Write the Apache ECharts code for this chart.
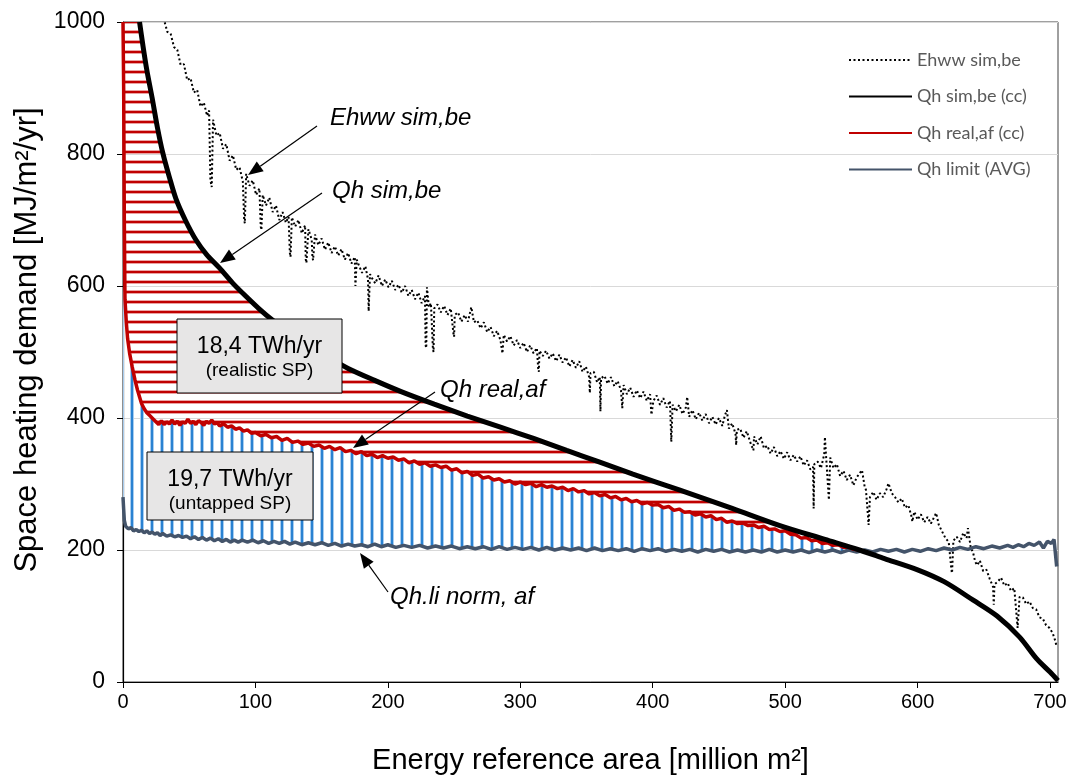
<!DOCTYPE html>
<html>
<head>
<meta charset="utf-8">
<script src="https://cdn.jsdelivr.net/npm/echarts@6/dist/echarts.min.js"></script>
<style>html,body{margin:0;padding:0;background:#fff}#c{width:1075px;height:775px}</style>
</head>
<body>
<div id="c"></div>
<script>
// ---- Data ----
const ehwwSim = [[29,1040],[31,1003],[33.5,985],[36,982],[38.5,962],[41,958],[43.5,935],[46,936],[48.5,912],[51,915],[53.5,893],[56,897],[58.5,872],[61,878],[63.5,858],[65,866],[66,760],[67,750],[68,852],[70.5,828],[73,832],[75.5,808],[78,815],[80.5,790],[83,798],[85.5,776],[88,780],[90.5,758],[91.5,700],[92,695],[93,770],[95.5,752],[98,760],[100.5,738],[103,748],[104,690],[104.5,685],[105.5,738],[108,722],[110.5,734],[113,712],[115.5,722],[118,700],[120.5,712],[123,696],[125,705],[126,650],[126.5,644],[127.5,704],[130,690],[132.5,700],[135,680],[137.5,692],[138,640],[138.5,635],[140,686],[142.5,670],[143,645],[143.5,639],[145,678],[147.5,662],[150,672],[152.5,655],[155,666],[157.5,650],[160,660],[162.5,646],[165,656],[167.5,640],[170,650],[172.5,634],[175,644],[175.5,600],[176,597],[176.5,640],[178,632],[180.5,620],[183,630],[185,610],[185.5,562],[186,559],[186.5,618],[188,612],[190.5,604],[193,616],[195.5,600],[198,610],[200.5,598],[203,608],[205.5,594],[208,602],[210.5,590],[213,600],[215.5,585],[218,594],[220.5,580],[223,590],[225.5,574],[228,585],[228.5,510],[229,506],[229.5,598],[230,599],[231,568],[232.5,574],[234,505],[234.5,500],[235,566],[237.5,572],[240,560],[242.5,570],[245,556],[247.5,566],[249.5,528],[250,523],[250.5,556],[253,560],[255.5,546],[258,556],[260.5,546],[263,568],[263.5,569],[265,545],[267.5,548],[270,536],[272.5,545],[275,530],[277.5,538],[280,524],[282.5,532],[285,518],[286.5,498],[287,495],[287.5,526],[290,516],[292.5,524],[295,510],[297.5,518],[300,506],[302.5,514],[305,500],[307.5,510],[310,498],[312.5,506],[313.5,475],[314,470],[314.5,502],[317,494],[319.5,502],[322,490],[324.5,498],[327,486],[329.5,496],[332,484],[334.5,492],[337,478],[339.5,488],[342,476],[344.5,486],[347,470],[349.5,478],[352,462],[352.5,438],[353,468],[355.5,470],[358,454],[360,462],[360.5,410],[361,460],[363.5,464],[366,452],[368.5,462],[371,448],[373.5,456],[376,442],[377,415],[378,450],[380.5,436],[383,446],[385.5,432],[388,442],[390.5,430],[393,440],[395.5,426],[398,436],[399,405],[400.5,426],[403,434],[405.5,420],[408,430],[410.5,416],[413,426],[414,364],[415,420],[417.5,410],[420,420],[422.5,406],[425,416],[426,432],[427.5,402],[430,412],[432.5,398],[435,408],[437.5,396],[440,406],[442.5,392],[445,402],[447.5,390],[450,400],[452.5,388],[454.5,404],[456,412],[457.5,384],[460,392],[462.5,376],[463,359],[463.5,382],[466,384],[468.5,370],[471,380],[473.5,364],[476,351],[476.5,372],[479,360],[481.5,372],[484,354],[486.5,358],[489,346],[491.5,356],[494,342],[496.5,350],[499,338],[501.5,348],[504,336],[506.5,344],[509,334],[511.5,342],[514,328],[516.5,336],[519,322],[521,326],[521.5,263],[522,330],[524.5,334],[527,324],[529.5,345],[530,371],[531,338],[533,276],[534,340],[536.5,324],[539,330],[541.5,312],[544,320],[546.5,306],[549,314],[551.5,298],[554,310],[556.5,317],[558,321],[560,296],[561,291],[563,238],[564,280],[566.5,288],[569,276],[571.5,286],[574,280],[576.5,292],[578,301],[580.5,286],[583,280],[585.5,272],[588,278],[590.5,264],[593,268],[595.5,250],[596,243],[597.5,258],[600,246],[602.5,254],[605,242],[607.5,250],[610,240],[612.5,250],[614,256],[616,238],[618.5,228],[621,218],[623.5,212],[625.5,170],[626,165],[627,214],[629.5,220],[632,212],[634.5,226],[637,218],[638,233],[640,205],[642,195],[643.5,182],[645,177],[647,184],[649.5,168],[652,170],[654.5,156],[657,144],[657.5,117],[658,148],[660.5,152],[663,158],[665.5,146],[668,150],[670.5,138],[673,142],[675.5,82],[676,79],[677,129],[679.5,128],[682,118],[684.5,122],[687,112],[689.5,110],[692,98],[694.5,96],[697,86],[699.5,82],[702,74],[704,62],[705,53]];

const qhSim = [[12.5,1000],[15,965],[18,927],[22,885],[26,840],[30,802],[35,765],[40,732],[47,700],[55,670],[63,648],[73,627],[83,604],[93,584],[103,565],[113,548],[125,530],[140,510],[155,492],[170,475],[190,457],[210,440],[235,421],[260,403],[285,386],[310,369],[335,351],[360,333],[385,315],[420,291],[460,263],[496,237],[530,216],[556,200],[575,187],[600,170],[620,152],[642,124],[660,100],[677,68],[690,35],[700,15],[706,2]];

const qhReal = [[0,1000],[0.5,900],[1,700],[1.5,580],[2.5,545],[3.5,520],[5,498],[7,477],[9,458],[11,442],[12.5,432],[14,422],[16,414],[18,408],[20,404],[22,400],[25,394],[27,390],[29,396],[31,390],[33,394],[35,391],[37,397],[39,391],[41,395],[43,389],[45,394],[47,392],[49,398],[51,392],[53,395],[55,390],[57,396],[59,393],[61,389],[63,395],[65,392],[67,397],[69,391],[71,393],[73,388],[76,391],[79,386],[82,388],[85,383],[88,385],[91,380],[94,382],[97,377],[100,378],[104,373],[108,375],[112,370],[116,372],[120,366],[124,369],[128,363],[132,365],[136,360],[140,362],[144,357],[148,359],[152,354],[156,357],[160,352],[164,355],[168,349],[172,351],[176,346],[180,349],[184,343],[188,345],[192,340],[196,343],[200,339],[204,341],[208,336],[212,338],[216,332],[220,335],[224,330],[228,332],[232,327],[236,329],[240,325],[244,327],[248,321],[252,323],[256,317],[260,319],[264,313],[268,315],[272,309],[276,311],[280,306],[284,308],[288,303],[292,305],[296,300],[300,303],[304,299],[308,301],[312,296],[316,299],[320,295],[324,297],[328,293],[332,295],[336,290],[340,293],[344,288],[348,290],[352,285],[356,287],[360,282],[364,284],[368,279],[372,281],[376,276],[380,278],[384,273],[388,275],[392,270],[396,272],[400,268],[404,269],[408,264],[412,266],[416,260],[420,262],[424,257],[428,258],[432,253],[436,255],[440,250],[444,252],[448,246],[452,248],[456,242],[460,244],[464,240],[468,241],[472,237],[476,238],[480,234],[484,236],[488,231],[492,232],[496,228],[500,229],[504,224],[508,223],[512,218],[516,219],[520,214],[524,215],[528,210],[532,211],[536,207],[540,208],[544,204],[548,204],[552,201],[556,200]];

const qhLimit = [[0,280],[0.5,262],[1,245],[2,236],[4,232],[6,234],[8,229],[10,231],[12,228],[14,230],[16,226],[18,229],[20,225],[22,227],[24,224],[26,226],[28,222],[30,225],[33,221],[36,223],[39,220],[42,222],[45,219],[48,221],[51,217],[54,220],[57,216],[60,219],[63,215],[66,218],[69,214],[72,217],[75,213],[78,216],[81,212],[84,215],[87,212],[90,215],[94,212],[98,215],[102,211],[106,214],[110,210],[114,213],[118,210],[122,213],[126,209],[130,212],[135,208],[140,211],[145,208],[150,211],[155,207],[160,210],[165,206],[170,209],[175,206],[180,208],[185,205],[190,209],[195,205],[200,208],[206,204],[212,207],[218,204],[224,207],[230,203],[236,206],[242,203],[248,206],[254,202],[260,205],[266,202],[272,205],[278,201],[284,205],[290,201],[296,204],[302,201],[308,204],[314,200],[320,204],[326,200],[332,203],[338,200],[344,203],[350,199],[356,203],[362,199],[368,202],[374,199],[380,202],[386,198],[392,202],[398,199],[404,202],[410,198],[416,201],[422,198],[428,201],[434,197],[440,201],[446,198],[452,201],[458,197],[464,200],[470,197],[476,200],[482,197],[488,201],[494,197],[500,200],[506,197],[512,200],[518,196],[524,200],[530,197],[536,200],[542,196],[548,200],[554,197],[560,200],[566,197],[572,201],[578,198],[584,201],[590,197],[596,201],[602,198],[608,202],[614,199],[620,203],[626,200],[632,204],[638,201],[644,205],[650,202],[656,206],[662,203],[668,207],[672,204],[676,208],[680,205],[684,210],[688,207],[692,212],[695,203],[698,213],[701,210],[703,216],[704.5,218],[705,175]];

const seriesNames = ['Ehww sim,be', 'Qh sim,be (cc)', 'Qh real,af (cc)', 'Qh limit (AVG)'];
const boxTexts = [['18,4 TWh/yr', '(realistic SP)'], ['19,7 TWh/yr', '(untapped SP)']];
const annotationTexts = ['Ehww sim,be', 'Qh sim,be', 'Qh real,af', 'Qh.li norm, af'];

// ---- Hatch patterns ----
function stripePattern(horizontal, dark, light) {
  const c = document.createElement('canvas');
  c.width = 10; c.height = 10;
  const ctx = c.getContext('2d');
  const rows = [[0, light], [1, dark], [2, dark], [3, light]];
  rows.forEach(([i, col]) => {
    ctx.fillStyle = col;
    if (horizontal) ctx.fillRect(0, i, 10, 1); else ctx.fillRect(i, 0, 1, 10);
  });
  return { image: c, repeat: 'repeat' };
}
const redHatch = stripePattern(true, '#C00000', '#E9A3A3');
const blueHatch = stripePattern(false, '#2A82D2', '#A9CDEF');

// ---- Polygons built from the data arrays ----
const xEnd = 556;
const simPart = qhSim.filter(p => p[0] <= xEnd);
const realPart = qhReal.filter(p => p[0] <= xEnd);
const limitPart = qhLimit.filter(p => p[0] <= xEnd);
const redPoly = simPart.concat(realPart.slice().reverse());
const bluePoly = [[0, 600]].concat(realPart.filter(p => p[1] <= 600)).concat(limitPart.slice().reverse());

function polySeries(poly, fill) {
  return {
    type: 'custom', silent: true, z: 1, data: [[0, 0]],
    renderItem: function (params, api) {
      const pts = poly.map(p => api.coord(p));
      const cs = params.coordSys;
      return {
        type: 'polygon', shape: { points: pts }, style: { fill: fill, stroke: null },
        clipPath: { type: 'rect', shape: { x: cs.x, y: cs.y, width: cs.width, height: cs.height } }
      };
    }
  };
}

// ---- Annotations (pixel layout) ----
function arrow(x1, y1, x2, y2) {
  const a = Math.atan2(y2 - y1, x2 - x1), L = 15, W = 6;
  const bx = x2 - L * Math.cos(a), by = y2 - L * Math.sin(a);
  const nx = -Math.sin(a) * W, ny = Math.cos(a) * W;
  return [
    { type: 'line', shape: { x1: x1, y1: y1, x2: bx, y2: by }, style: { stroke: '#000', lineWidth: 1.2 }, z: 100 },
    { type: 'polygon', shape: { points: [[x2, y2], [bx + nx, by + ny], [bx - nx, by - ny]] }, style: { fill: '#000' }, z: 100 }
  ];
}
function itText(t, x, y) {
  return { type: 'text', x: x, y: y, z: 100, style: { text: t, font: 'italic 24px "Liberation Sans", Arial', fill: '#000', verticalAlign: 'middle', align: 'left' } };
}
function box(x, y, w, h, lines) {
  const cx = x + w / 2;
  return [
    { type: 'rect', shape: { x: x, y: y, width: w, height: h }, style: { fill: '#E7E6E6', stroke: '#000', lineWidth: 1 }, z: 100 },
    { type: 'text', x: cx, y: y + 28, z: 101, style: { text: lines[0], font: '23px "Liberation Sans", Arial', fill: '#000', align: 'center', verticalAlign: 'middle' } },
    { type: 'text', x: cx, y: y + 52, z: 101, style: { text: lines[1], font: '19px "Liberation Sans", Arial', fill: '#000', align: 'center', verticalAlign: 'middle' } }
  ];
}
const graphics = [].concat(
  box(177, 319, 165, 74, boxTexts[0]),
  box(147, 452, 166, 68, boxTexts[1]),
  itText(annotationTexts[0], 330, 118), arrow(317, 126, 248, 175),
  itText(annotationTexts[1], 332, 191), arrow(322, 193, 220, 263),
  itText(annotationTexts[2], 440, 390), arrow(435, 392, 353, 448),
  itText(annotationTexts[3], 390, 597), arrow(388, 592, 360, 553)
);

const chart = echarts.init(document.getElementById('c'));
chart.setOption({
  animation: false,
  backgroundColor: '#fff',
  grid: { left: 123, right: 17, top: 22, bottom: 93, show: true, borderColor: '#404040', borderWidth: 1, containLabel: false, outerBoundsMode: 'none' },
  legend: {
    data: seriesNames, orient: 'vertical', left: 843, top: 46,
    itemWidth: 63, itemHeight: 14, itemGap: 18.5,
    itemStyle: { color: 'rgba(0,0,0,0)', borderWidth: 0 },
    textStyle: { color: '#595959', fontSize: 18, fontFamily: 'Lato, "Liberation Sans", sans-serif', padding: [0, 0, 0, 0] }
  },
  xAxis: {
    type: 'value', min: 0, max: 706, interval: 100,
    name: 'Energy reference area [million m²]', nameLocation: 'middle', nameGap: 64,
    nameTextStyle: { fontSize: 29, color: '#000', fontFamily: '"Liberation Sans", Arial' },
    axisLine: { show: true, lineStyle: { color: '#000', width: 1.2 } },
    axisTick: { show: true, length: 6, lineStyle: { color: '#000' } },
    axisLabel: { showMaxLabel: false, margin: 10, fontSize: 20, color: '#000', fontFamily: '"Liberation Sans Narrow", "Liberation Sans", Arial' },
    splitLine: { show: false }
  },
  yAxis: {
    type: 'value', min: 0, max: 1000, interval: 200,
    name: 'Space heating demand [MJ/m²/yr]', nameLocation: 'middle', nameGap: 78, nameRotate: 90,
    nameTextStyle: { fontSize: 31, color: '#000', fontFamily: '"Liberation Sans", Arial', padding: [0, 0, 0, 24] },
    axisLine: { show: true, lineStyle: { color: '#000', width: 1.2 } },
    axisTick: { show: true, length: 6, lineStyle: { color: '#000' } },
    axisLabel: { margin: 18, fontSize: 23, color: '#000', fontFamily: '"Liberation Sans", Arial', formatter: v => String(v) },
    splitLine: { show: true, lineStyle: { color: '#D9D9D9', width: 1 } }
  },
  graphic: graphics,
  series: [
    polySeries(redPoly, redHatch),
    polySeries(bluePoly, blueHatch),
    { name: seriesNames[0], type: 'line', data: ehwwSim, showSymbol: false, symbol: 'none', z: 2,
      lineStyle: { color: '#000', width: 2, type: [2, 2.5] }, itemStyle: { color: '#000' } },
    { name: seriesNames[3], type: 'line', data: qhLimit, showSymbol: false, symbol: 'none', z: 3,
      lineStyle: { color: '#44546A', width: 3.5 }, itemStyle: { color: '#44546A' } },
    { name: seriesNames[2], type: 'line', data: qhReal, showSymbol: false, symbol: 'none', z: 4,
      lineStyle: { color: '#C00000', width: 3.5 }, itemStyle: { color: '#C00000' } },
    { name: seriesNames[1], type: 'line', data: qhSim, showSymbol: false, symbol: 'none', z: 5, smooth: 0.3,
      lineStyle: { color: '#000', width: 5 }, itemStyle: { color: '#000' } }
  ]
});
</script>
</body>
</html>
